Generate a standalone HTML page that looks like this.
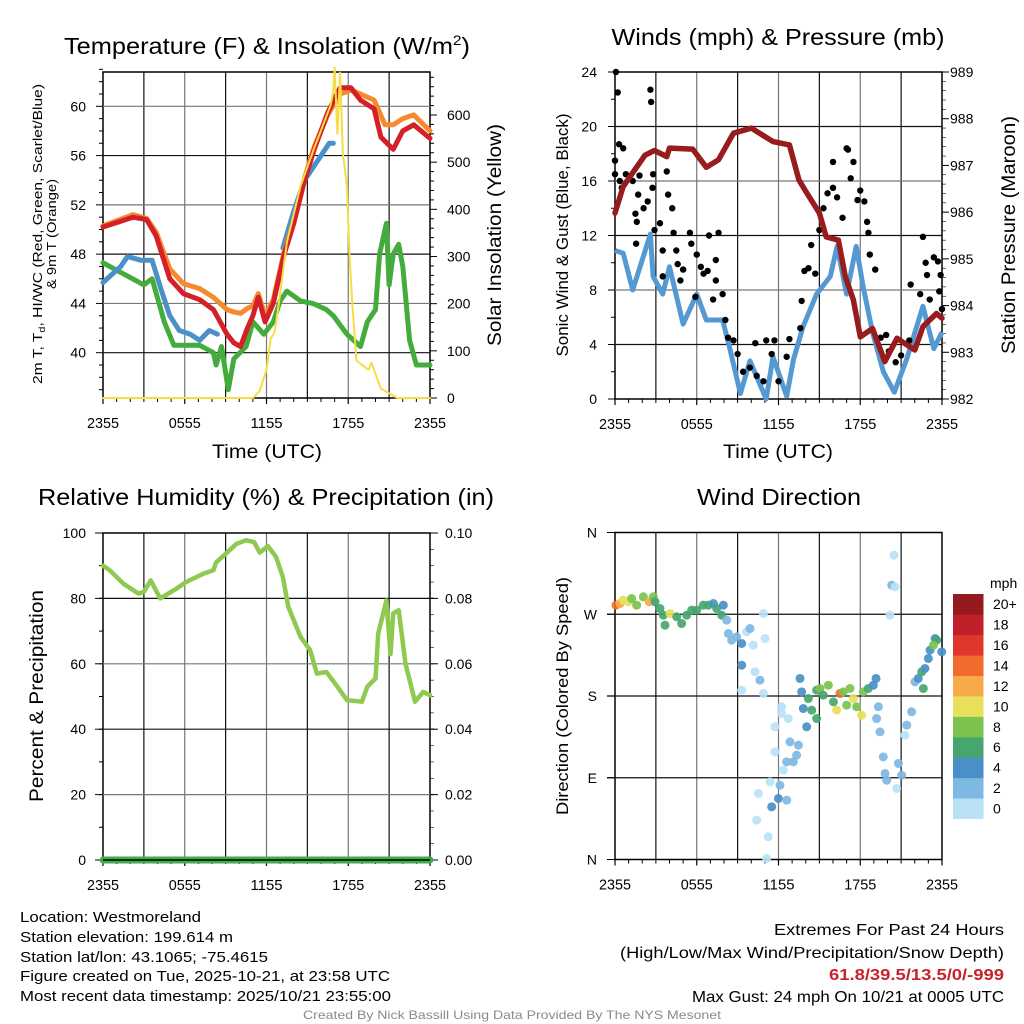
<!DOCTYPE html>
<html><head><meta charset="utf-8"><title>Mesonet Meteogram</title>
<style>
html,body{margin:0;padding:0;background:#fff;}
svg{display:block;font-family:"Liberation Sans",Arial,sans-serif;}
</style></head>
<body>
<svg id="chart" width="1024" height="1024" viewBox="0 0 1024 1024" xmlns="http://www.w3.org/2000/svg">
<rect width="1024" height="1024" fill="#fff"/>
<g id="p1"></g>
<g id="p2"></g>
<g id="p3"></g>
<g id="p4"></g>

<text x="267" y="54" font-size="23" text-anchor="middle" textLength="406" lengthAdjust="spacingAndGlyphs">Temperature (F) &amp; Insolation (W/m<tspan font-size="14" dy="-9">2</tspan><tspan dy="9">)</tspan></text>
<text x="778" y="45" font-size="23" text-anchor="middle" textLength="333" lengthAdjust="spacingAndGlyphs">Winds (mph) &amp; Pressure (mb)</text>
<text x="266" y="505" font-size="23" text-anchor="middle" textLength="456" lengthAdjust="spacingAndGlyphs">Relative Humidity (%) &amp; Precipitation (in)</text>
<text x="779" y="505" font-size="23" text-anchor="middle" textLength="164" lengthAdjust="spacingAndGlyphs">Wind Direction</text>

<text x="267" y="458" font-size="19" text-anchor="middle" textLength="110" lengthAdjust="spacingAndGlyphs">Time (UTC)</text>
<text x="778" y="458" font-size="19" text-anchor="middle" textLength="110" lengthAdjust="spacingAndGlyphs">Time (UTC)</text>

<g transform="translate(42,234) rotate(-90)">
<text x="0" y="0" font-size="13" text-anchor="middle" textLength="300" lengthAdjust="spacingAndGlyphs">2m T, T<tspan font-size="9" dy="3">d</tspan><tspan dy="-3">, HI/WC (Red, Green, Scarlet/Blue)</tspan></text>
<text x="0" y="14" font-size="13" text-anchor="middle" textLength="110" lengthAdjust="spacingAndGlyphs">&amp; 9m T (Orange)</text>
</g>
<text transform="translate(501,235) rotate(-90)" font-size="19" text-anchor="middle" textLength="222" lengthAdjust="spacingAndGlyphs">Solar Insolation (Yellow)</text>
<text transform="translate(568,235) rotate(-90)" font-size="17" text-anchor="middle" textLength="243" lengthAdjust="spacingAndGlyphs">Sonic Wind &amp; Gust (Blue, Black)</text>
<text transform="translate(1015,235) rotate(-90)" font-size="19" text-anchor="middle" textLength="238" lengthAdjust="spacingAndGlyphs">Station Pressure (Maroon)</text>
<text transform="translate(43,696) rotate(-90)" font-size="19" text-anchor="middle" textLength="212" lengthAdjust="spacingAndGlyphs">Percent &amp; Precipitation</text>
<text transform="translate(568,696) rotate(-90)" font-size="17" text-anchor="middle" textLength="238" lengthAdjust="spacingAndGlyphs">Direction (Colored By Speed)</text>

<g font-size="15">
<text x="20" y="922" textLength="181" lengthAdjust="spacingAndGlyphs">Location: Westmoreland</text>
<text x="20" y="942" textLength="213" lengthAdjust="spacingAndGlyphs">Station elevation: 199.614 m</text>
<text x="20" y="962" textLength="248" lengthAdjust="spacingAndGlyphs">Station lat/lon: 43.1065; -75.4615</text>
<text x="20" y="981" textLength="370" lengthAdjust="spacingAndGlyphs">Figure created on Tue, 2025-10-21, at 23:58 UTC</text>
<text x="20" y="1001" textLength="371" lengthAdjust="spacingAndGlyphs">Most recent data timestamp: 2025/10/21 23:55:00</text>
</g>
<g font-size="16">
<text x="774" y="935" textLength="230" lengthAdjust="spacingAndGlyphs">Extremes For Past 24 Hours</text>
<text x="620" y="958" textLength="384" lengthAdjust="spacingAndGlyphs">(High/Low/Max Wind/Precipitation/Snow Depth)</text>
<text x="829" y="980" font-weight="bold" fill="#c8232c" textLength="175" lengthAdjust="spacingAndGlyphs">61.8/39.5/13.5/0/-999</text>
<text x="692" y="1002" textLength="312" lengthAdjust="spacingAndGlyphs">Max Gust: 24 mph On 10/21 at 0005 UTC</text>
</g>
<text x="303" y="1019" font-size="12" fill="#8a8a8a" textLength="418" lengthAdjust="spacingAndGlyphs">Created By Nick Bassill Using Data Provided By The NYS Mesonet</text>
</svg>

<script>
// ---------- DATA ----------
const timeLabels = ["2355","0555","1155","1755","2355"];

const redT   = [0,2.2,3.2,3.9,4.9,5.9,7.1,8.1,9.1,9.6,10.1,10.6,11.0,11.4,11.9,12.5,13.3,14.0,14.8,15.5,16.5,17.4,18.2,18.9,19.9,20.4,21.3,22.0,22.8,24];
const redV   = [50.2,51.0,50.8,49.5,46.0,44.8,44.3,43.5,41.5,40.8,40.5,42.0,43.0,44.5,42.5,44.0,48.0,50.5,54.0,56.5,59.5,61.5,61.5,60.5,59.8,57.5,56.5,58.0,58.5,57.4];
const orangeT= [0,2.2,3.2,3.9,4.9,5.9,7.1,8.1,9.1,9.6,10.1,10.6,11.0,11.4,11.9,12.5,13.3,14.0,14.8,15.5,16.5,17.4,18.2,18.9,19.9,20.7,21.3,22.0,22.8,24];
const orangeV= [50.3,51.2,50.9,49.8,46.8,45.6,45.2,44.5,43.5,43.3,43.2,43.6,43.8,44.8,43.0,44.3,48.2,50.7,54.2,56.7,59.3,61.0,61.3,61.0,60.5,58.5,58.5,59.0,59.3,58.0];
const blueT  = [0,1.3,1.8,2.8,3.6,4.3,4.9,5.6,6.4,7.1,7.8,8.4,null,13.2,14.0,14.8,15.7,16.6,16.9];
const blueV  = [45.7,47.0,47.8,47.5,47.5,45.0,43.0,41.8,41.5,41.0,41.8,41.5,null,48.5,51.5,54.0,55.5,57.0,57.0];
const greenT = [0,3.0,3.6,4.5,5.2,7.1,8.1,8.3,8.7,9.2,9.6,10.5,11.0,11.8,12.5,13.0,13.5,14.5,15.4,16.4,16.9,17.9,18.9,19.4,20.0,20.3,20.8,21.0,21.3,21.7,22.0,22.5,23.0,24];
const greenV = [47.3,45.5,46.0,42.5,40.6,40.6,40.0,39.0,40.5,37.0,39.5,40.5,42.5,41.5,42.5,44.2,45.0,44.2,44.0,43.5,43.0,41.5,40.5,42.5,43.5,48.0,50.5,45.5,48.0,48.8,47.0,41.0,39.0,39.0];
const solarT = [0,11.0,11.5,12.0,12.3,12.6,12.9,13.5,14.5,15.5,16.3,16.7,16.9,17.0,17.2,17.4,17.6,17.9,18.1,18.3,18.6,19.0,19.5,19.7,20.4,21.0,21.6,24];
const solarV = [0,0,15,60,125,140,200,330,450,530,590,620,650,700,560,690,520,450,300,200,80,70,60,75,20,10,0,0];

const windT  = [0,0.6,1.3,2.6,2.8,3.5,4.0,5.0,6.0,6.7,7.9,8.4,9.2,9.9,11.1,11.6,12.6,13.1,13.8,14.8,15.8,16.3,17.0,17.7,18.2,18.9,19.7,20.5,21.4,22.6,23.4,24];
const windV  = [10.9,10.7,8.0,12.1,9.0,7.7,9.7,5.5,7.7,5.8,5.8,3.8,0.4,2.8,0.0,3.1,0.2,2.9,5.3,7.7,9.0,11.2,7.7,11.2,8.3,4.9,2.0,0.5,2.9,6.8,3.7,4.9];
const presT  = [0,0.6,2.2,2.9,3.8,4.0,5.7,6.7,7.6,8.7,10.0,11.6,12.8,13.5,14.1,15.0,15.5,16.4,16.9,17.5,18.0,18.9,19.8,20.7,22.0,22.6,23.6,24];
const presV  = [985.98,986.55,987.22,987.32,987.19,987.37,987.35,986.96,987.12,987.69,987.80,987.51,987.44,986.69,986.40,985.98,985.47,985.40,984.62,984.12,983.33,983.51,982.80,983.30,983.05,983.55,983.83,983.73];
const gustT  = [0.07,0.2,0,0,0.3,0.6,0.35,0.5,0.8,1.3,1.8,1.5,1.6,1.55,1.7,2.1,2.4,2.6,2.65,2.8,2.75,2.9,3.3,3.8,3.9,4.2,3.5,3.5,4.3,4.5,4.6,4.8,5.0,5.5,5.6,6.0,6.3,5.9,6.5,6.8,6.9,7.4,7.6,7.4,7.9,7.2,8.1,8.3,8.7,9.0,9.4,9.9,10.4,10.3,10.9,11.1,11.5,11.7,12.0,12.6,12.8,13.6,13.7,13.9,14.2,14.4,14.7,15.0,15.3,15.6,16.0,16.0,16.3,16.7,17.1,17.0,17.3,17.5,17.8,18.0,18.3,18.5,18.6,18.7,19.1,19.5,19.9,20.1,20.6,21.0,21.6,21.7,22.4,22.6,22.8,22.9,23.1,23.4,23.7,23.8,23.9,24];
const gustV  = [24,22.5,17.5,16.5,18.7,18.4,16.0,15.5,16.5,16.0,16.4,13.6,13.0,11.4,15.0,14.0,14.5,22.7,21.8,16.5,15.5,12.4,12.9,16.7,15.0,14.0,10.9,9.0,12.2,10.9,9.9,8.7,9.5,12.2,11.4,10.6,9.7,7.5,9.2,9.4,12.0,10.2,12.2,8.7,7.7,7.3,5.8,4.5,4.3,3.3,2.0,2.3,1.7,4.1,1.3,4.3,3.3,4.3,1.3,3.1,4.4,5.2,7.2,9.4,9.6,11.3,9.2,12.4,14.0,15.1,15.5,17.4,14.8,13.3,18.3,18.4,16.2,17.4,14.6,15.3,14.5,13.0,12.2,10.6,9.5,4.5,4.7,3.5,2.7,3.2,4.3,8.4,7.7,11.9,10.0,9.1,7.3,10.4,10.1,7.9,9.1,6.6];

const rhT    = [0,0.5,1.5,2.6,3.0,3.5,4.2,5.4,6.1,7.4,8.1,8.3,9.1,9.8,10.5,11.1,11.5,12.1,12.7,13.2,13.6,14.5,15.2,15.7,16.4,17.2,17.9,19.0,19.4,20.0,20.2,20.8,21.1,21.3,21.7,22.2,22.9,23.5,24];
const rhV    = [90,88.6,84.5,81.5,82,85.5,80,83,85,87.6,88.6,91,94,96.7,97.8,97.2,94,96,92.7,86.5,77.4,68.2,64.2,57,57.5,53,48.9,48.4,53,55.5,69.2,79.4,63,75.4,76.4,60,48.4,51.4,50.4];
const precipT= [0,24];
const precipV= [0,0];

const dirT = [0.07,0.37,0.61,0.98,1.22,1.59,2.08,2.52,2.81,2.94,3.30,3.55,3.67,4.04,4.53,4.89,5.26,5.63,5.99,6.48,6.85,7.22,7.46,7.83,7.95,8.20,8.32,8.56,8.93,9.30,9.66,9.91,10.15,10.89,11.01,9.30,9.30,10.28,10.64,10.89,12.23,12.23,12.72,11.74,11.74,11.38,10.52,10.40,11.25,11.13,11.50,11.99,12.35,12.60,12.84,13.09,13.33,13.46,12.11,12.60,13.58,13.70,13.82,14.07,14.19,14.44,14.80,14.80,15.05,15.29,15.66,16.03,16.27,16.51,16.76,17.00,17.25,17.49,17.74,18.10,18.23,18.59,18.96,19.16,19.33,19.20,19.45,19.69,19.82,19.94,20.31,20.48,20.55,20.18,20.80,21.04,20.67,21.28,21.41,21.77,22.02,22.26,22.51,22.75,23.00,23.12,23.49,23.61,23.98,22.63,23.37];
const dirV = [280.0,281.8,285.5,283.7,287.3,280.0,289.2,283.7,289.2,283.7,276.3,269.0,258.0,270.8,267.2,259.8,269.0,274.5,274.5,280.0,280.0,281.8,276.3,269.0,280.0,263.5,248.8,241.5,245.1,237.8,250.6,254.3,236.0,270.8,243.3,213.9,186.4,206.6,197.4,182.8,168.1,160.7,155.2,146.1,118.5,85.5,72.7,43.3,25.0,1.1,58.0,67.2,98.3,107.5,129.5,107.5,114.9,125.9,81.8,65.3,199.3,184.6,166.2,146.1,177.2,164.4,155.2,186.4,188.3,180.9,191.9,173.6,164.4,182.8,184.6,169.9,188.3,177.2,168.1,158.9,184.6,188.3,191.9,199.3,168.1,155.2,140.5,113.0,94.7,87.3,302.0,335.0,300.2,269.0,105.7,92.8,78.2,136.9,147.9,162.6,195.6,199.3,206.6,210.3,221.3,230.5,243.3,241.5,228.6,188.3,236.0];
const dirS = [15,13,11,11,9,9,9,13,9,7,7,7,7,11,7,7,7,7,7,7,7,5,7,7,5,3,3,3,3,5,1,3,1,1,1,5,1,1,3,1,1,1,1,1,1,1,1,1,1,1,5,5,1,3,3,3,3,3,3,3,5,5,5,5,7,7,7,7,9,7,9,7,11,15,9,9,9,11,9,11,9,7,5,5,3,3,3,3,3,3,3,1,1,1,3,3,1,1,3,3,3,5,7,5,5,5,5,7,5,7,9];
</script>
<script>
const NS="http://www.w3.org/2000/svg";
function mk(parent,tag,attrs){const e=document.createElementNS(NS,tag);for(const k in attrs)e.setAttribute(k,attrs[k]);parent.appendChild(e);return e;}
function linePath(ts,vs,sx,sy){let d="",pen=false;for(let i=0;i<ts.length;i++){if(ts[i]===null||vs[i]===null){pen=false;continue;}d+=(pen?"L":"M")+sx(ts[i]).toFixed(1)+","+sy(vs[i]).toFixed(1);pen=true;}return d;}

function frame(g,x0,x1,y0,y1,name){
  for(let h=3;h<24;h+=3){const x=x0+(x1-x0)*h/24;
    const l=mk(g,"line",{x1:x,x2:x,y1:y0,y2:y1,stroke:(h%6===0)?"#777":"#111","stroke-width":1.2});
    
    }
  const r=mk(g,"rect",{x:x0,y:y0,width:x1-x0,height:y1-y0,fill:"none",stroke:"#000","stroke-width":1.5});
  
  
  for(let i=0;i<timeLabels.length;i++){const x=x0+(x1-x0)*i/4;
    mk(g,"line",{x1:x,x2:x,y1:y1,y2:y1+6,stroke:"#000","stroke-width":1.2});
    const t=mk(g,"text",{x:x,y:y1+30,"font-size":15,"text-anchor":"middle",textLength:32,lengthAdjust:"spacingAndGlyphs"});
    t.textContent=timeLabels[i];
    
    }
  for(let i=0;i<=24;i++){const x=x0+(x1-x0)*i/24; if(i%6) mk(g,"line",{x1:x,x2:x,y1:y1,y2:y1+4,stroke:"#000"});}
}
function hgrid(g,x0,x1,y,dark){const l=mk(g,"line",{x1:x0,x2:x1,y1:y,y2:y,stroke:dark?"#111":"#777","stroke-width":1.2});
  
  }
function ylab(g,x,y,txt,anchor){const t=mk(g,"text",{x:x,y:y+5,"font-size":14,"text-anchor":anchor});t.textContent=txt;
  
  return t;}

// ---------- PANEL 1 ----------
(function(){
 const g=document.getElementById("p1");const X0=103,X1=430,Y0=72,Y1=398;
 const sx=t=>X0+(X1-X0)*t/24;
 const sy=v=>352.7-(v-40)*12.32;
 const sr=v=>398-v*(398-115)/600;
 const tempTicks=[40,44,48,52,56,60], solTicks=[0,100,200,300,400,500,600];
 frame(g,X0,X1,Y0,Y1,"temperature");
 tempTicks.forEach((v,i)=>{hgrid(g,X0,X1,sy(v),i%2===0);mk(g,"line",{x1:X0-7,x2:X0,y1:sy(v),y2:sy(v),stroke:"#000"});ylab(g,86,sy(v),String(v),"end");});
 for(let v=37;v<=63;v++){if(v%4)mk(g,"line",{x1:X0-4,x2:X0,y1:sy(v),y2:sy(v),stroke:"#000"});}
 solTicks.forEach(v=>{mk(g,"line",{x1:X1,x2:X1+7,y1:sr(v),y2:sr(v),stroke:"#000"});ylab(g,447,sr(v),String(v),"start");});
 for(let v=20;v<=700;v+=20){if(v%100)mk(g,"line",{x1:X1,x2:X1+4,y1:sr(v),y2:sr(v),stroke:"#000"});}
 const series=[["green-td-line",greenT,greenV,"#43ac3c",sy,5],["blue-windchill-line",blueT,blueV,"#4a90c9",sy,5],["orange-9m-temp-line",orangeT,orangeV,"#f58a2e",sy,5],["red-2m-temp-line",redT,redV,"#d42127",sy,5],["yellow-insolation-line",solarT,solarV,"#f6dd45",sr,2]];
 series.forEach(s=>{const p=mk(g,"path",{d:linePath(s[1],s[2],sx,s[4]),fill:"none",stroke:s[3],"stroke-width":s[5],"stroke-linejoin":"round","stroke-linecap":"round"});
   
   });
})();

// ---------- PANEL 2 ----------
(function(){
 const g=document.getElementById("p2");const X0=615,X1=942,Y0=72,Y1=399;
 const sx=t=>X0+(X1-X0)*t/24;
 const sy=v=>Y1-v*(Y1-Y0)/24;
 const sp=v=>Y1-(v-982)*(Y1-Y0)/7;
 const windTicks=[0,4,8,12,16,20,24], presTicks=[982,983,984,985,986,987,988,989];
 frame(g,X0,X1,Y0,Y1,"wind");
 windTicks.forEach((v,i)=>{if(v>0&&v<24)hgrid(g,X0,X1,sy(v),i%2===1);mk(g,"line",{x1:X0-7,x2:X0,y1:sy(v),y2:sy(v),stroke:"#000"});ylab(g,597,sy(v),String(v),"end");});
 for(let v=2;v<24;v+=4)mk(g,"line",{x1:X0-4,x2:X0,y1:sy(v),y2:sy(v),stroke:"#000"});
 presTicks.forEach(v=>{mk(g,"line",{x1:X1,x2:X1+7,y1:sp(v),y2:sp(v),stroke:"#000"});ylab(g,950,sp(v),String(v),"start");});
 for(let v=982;v<989;v+=0.2){mk(g,"line",{x1:X1,x2:X1+4,y1:sp(v),y2:sp(v),stroke:"#000","stroke-width":0.6});}
 const w=mk(g,"path",{d:linePath(windT,windV,sx,sy),fill:"none",stroke:"#5499d2","stroke-width":5,"stroke-linejoin":"round"});
 
 
 for(let i=0;i<gustT.length;i++){const c=mk(g,"circle",{cx:sx(gustT[i]),cy:sy(gustV[i]),r:3.2,fill:"#000"});
   
   }
 const p=mk(g,"path",{d:linePath(presT,presV,sx,sp),fill:"none",stroke:"#981b1e","stroke-width":5.5,"stroke-linejoin":"round","stroke-linecap":"round"});
 
 
})();

// ---------- PANEL 3 ----------
(function(){
 const g=document.getElementById("p3");const X0=103,X1=430,Y0=533,Y1=860;
 const sx=t=>X0+(X1-X0)*t/24;
 const sy=v=>Y1-v*(Y1-Y0)/100;
 const sq=v=>Y1-v*(Y1-Y0)/0.1;
 const rhTicks=[0,20,40,60,80,100], prTicks=["0.00","0.02","0.04","0.06","0.08","0.10"];
 frame(g,X0,X1,Y0,Y1,"humidity");
 rhTicks.forEach((v,i)=>{if(v>0&&v<100)hgrid(g,X0-4,X1+4,sy(v),i%2===0);mk(g,"line",{x1:X0-8,x2:X0,y1:sy(v),y2:sy(v),stroke:"#000"});ylab(g,86,sy(v),String(v),"end");});
 for(let v=10;v<100;v+=20)mk(g,"line",{x1:X0-4,x2:X0,y1:sy(v),y2:sy(v),stroke:"#000"});
 prTicks.forEach(v=>{const y=sq(parseFloat(v));mk(g,"line",{x1:X1,x2:X1+8,y1:y,y2:y,stroke:"#000"});ylab(g,445,y,v,"start");});
 for(let v=0.005;v<0.1;v+=0.005){if(Math.round(v*1000)%20)mk(g,"line",{x1:X1,x2:X1+4,y1:sq(v),y2:sq(v),stroke:"#000","stroke-width":0.6});}
 const r=mk(g,"path",{d:linePath(rhT,rhV,sx,sy),fill:"none",stroke:"#8fc94f","stroke-width":4.5,"stroke-linejoin":"round","stroke-linecap":"round"});
 
 
 const pr=mk(g,"path",{d:linePath(precipT,precipV,sx,sq),fill:"none",stroke:"#3fae49","stroke-width":7,"stroke-linecap":"round"});
 
 
 mk(g,"line",{x1:X0,x2:X1,y1:Y1,y2:Y1,stroke:"#000","stroke-width":1.5});
})();

// ---------- PANEL 4 ----------
(function(){
 const g=document.getElementById("p4");const X0=615,X1=942,Y0=532.5,Y1=859.5;
 const sx=t=>X0+(X1-X0)*t/24;
 const sy=d=>Y1-d*(Y1-Y0)/360;
 const dirTicks=[0,90,180,270,360], dirLabels=["N","E","S","W","N"];
 const colors=["#b9e2f7","#7eb9e4","#4a90c8","#47a66f","#7cc24f","#e8e05a","#f8aa48","#f26a2c","#e0372d","#c0202a","#951a1d"];
 const cbLabels=["0","2","4","6","8","10","12","14","16","18","20+"];
 frame(g,X0,X1,Y0,Y1,"direction");
 dirTicks.forEach((v,i)=>{if(v>0&&v<360)hgrid(g,X0-8,X1,sy(v),true);mk(g,"line",{x1:X0-8,x2:X0,y1:sy(v),y2:sy(v),stroke:"#000"});ylab(g,597,sy(v),dirLabels[i],"end");});
 for(let i=0;i<dirT.length;i++){const ci=Math.min(10,Math.floor(dirS[i]/2));
   const c=mk(g,"circle",{cx:sx(dirT[i]),cy:sy(dirV[i]),r:4.5,fill:colors[ci],"fill-opacity":0.92});
   
   }
 const cb=mk(g,"g",{});
 
 
 const bh=(818.7-594)/11;
 for(let i=0;i<11;i++){const y=818.7-(i+1)*bh;
   mk(cb,"rect",{x:953,y:y,width:30.5,height:bh+0.3,fill:colors[i]});
   const t=mk(cb,"text",{x:993,y:y+bh/2+5,"font-size":14});t.textContent=cbLabels[i];
   
   }
 const m=mk(cb,"text",{x:990,y:588,"font-size":14});m.textContent="mph";
 
 
})();
</script>
</body></html>
